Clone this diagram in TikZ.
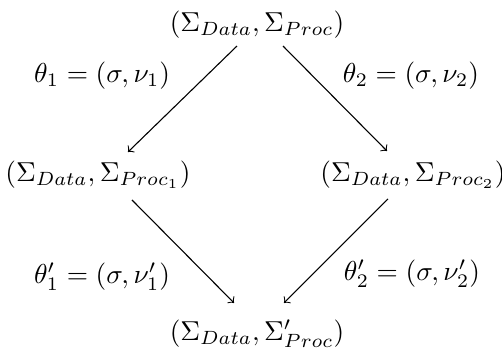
\documentclass[tikz,border=0pt]{standalone}
\usepackage{amsmath,amssymb}
\usetikzlibrary{calc}

\begin{document}
\begin{tikzpicture}[
    pair/.style={inner sep=2pt},
    lab/.style={inner sep=0pt},
    arr/.style={->, thin}
]
\useasboundingbox (0,0) rectangle (6.446,4.468);

% Signatures
\node[pair] (top) at (3.300,4.147) {$(\Sigma_{Data},\Sigma_{Proc})$};
\node[pair] (left) at (1.258,2.221) {$(\Sigma_{Data},\Sigma_{Proc_1})$};
\node[pair] (right) at (5.303,2.221) {$(\Sigma_{Data},\Sigma_{Proc_2})$};
\node[pair] (bottom) at (3.300,0.180) {$(\Sigma_{Data},\Sigma'_{Proc})$};

% Morphisms
\node[lab] (t1) at (1.310,3.492) {$\theta_1=(\sigma,\nu_1)$};
\node[lab] (t2) at (5.277,3.492) {$\theta_2=(\sigma,\nu_2)$};
\node[lab] (t1p) at (1.310,0.911) {$\theta'_1=(\sigma,\nu'_1)$};
\node[lab] (t2p) at (5.290,0.950) {$\theta'_2=(\sigma,\nu'_2)$};

% Arrows
\draw[arr] ($(top)+(-0.257,-0.27)$) -- ($(left)+(0.385,0.295)$);
\draw[arr] ($(top)+(0.334,-0.27)$) -- ($(right)+(-0.334,0.308)$);
\draw[arr] ($(left)+(0.437,-0.321)$) -- ($(bottom)+(-0.295,0.398)$);
\draw[arr] ($(right)+(-0.321,-0.308)$) -- ($(bottom)+(0.347,0.398)$);

\end{tikzpicture}
\end{document}
